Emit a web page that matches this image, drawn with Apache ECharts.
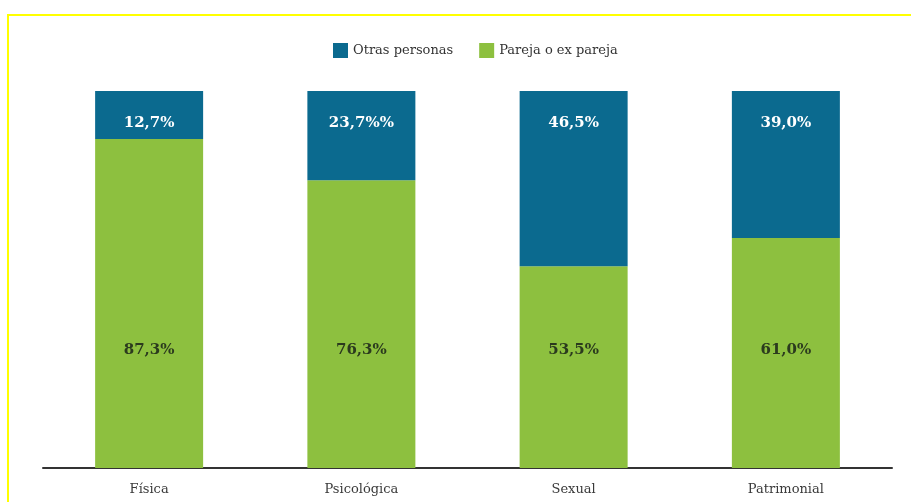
<!DOCTYPE html>
<html>
<head>
<meta charset="utf-8">
<script src="https://cdn.jsdelivr.net/npm/echarts@6/dist/echarts.min.js"></script>
<style>
html,body{margin:0;padding:0;background:#fff;}
#frame{position:absolute;left:7px;top:14px;right:0;bottom:0;border-top:2px solid #ffff00;border-left:2px solid #ffff00;}
#chart{position:absolute;left:0;top:0;width:911px;height:502px;}
</style>
</head>
<body>
<div id="frame"></div>
<div id="chart"></div>
<script>
const categories = ['Física', 'Psicológica', 'Sexual', 'Patrimonial'];
const otrasPersonas = [12.7, 23.7, 46.5, 39.0];
const parejaExPareja = [87.3, 76.3, 53.5, 61.0];
const otrasLabels = ['12,7%', '23,7%%', '46,5%', '39,0%'];
const parejaLabels = ['87,3%', '76,3%', '53,5%', '61,0%'];

const chart = echarts.init(document.getElementById('chart'));
const serif = '"DejaVu Serif", "Liberation Serif", serif';
chart.setOption({
  animation: false,
  legend: {
    top: 38, left: 328,
    itemWidth: 15, itemHeight: 15, itemGap: 26,
    icon: 'rect',
    textStyle: { fontFamily: serif, fontSize: 13, color: '#333' },
    data: ['Otras personas', 'Pareja o ex pareja']
  },
  grid: { left: 43, right: 19, top: 91, bottom: 34 },
  xAxis: {
    type: 'category', data: categories,
    axisLine: { lineStyle: { color: '#333', width: 2 } },
    axisTick: { show: false },
    axisLabel: { fontFamily: serif, fontSize: 13, color: '#3a3a3a', margin: 15 }
  },
  yAxis: { type: 'value', min: 0, max: 100, show: false, splitLine: { show: false } },
  series: [
    {
      name: 'Pareja o ex pareja', type: 'bar', stack: 't', barWidth: 108,
      itemStyle: { color: '#8dc03f' },
      data: parejaExPareja,
      label: {
        show: true, position: 'insideBottom', distance: 110,
        formatter: p => parejaLabels[p.dataIndex],
        fontFamily: serif, fontWeight: 'bold', fontSize: 15, color: '#2b3a1e'
      }
    },
    {
      name: 'Otras personas', type: 'bar', stack: 't', barWidth: 108,
      itemStyle: { color: '#0b6a8f' },
      data: otrasPersonas,
      label: {
        show: true, position: 'insideTop', distance: 25,
        formatter: p => otrasLabels[p.dataIndex],
        fontFamily: serif, fontWeight: 'bold', fontSize: 15, color: '#ffffff'
      }
    }
  ]
});
</script>
</body>
</html>
